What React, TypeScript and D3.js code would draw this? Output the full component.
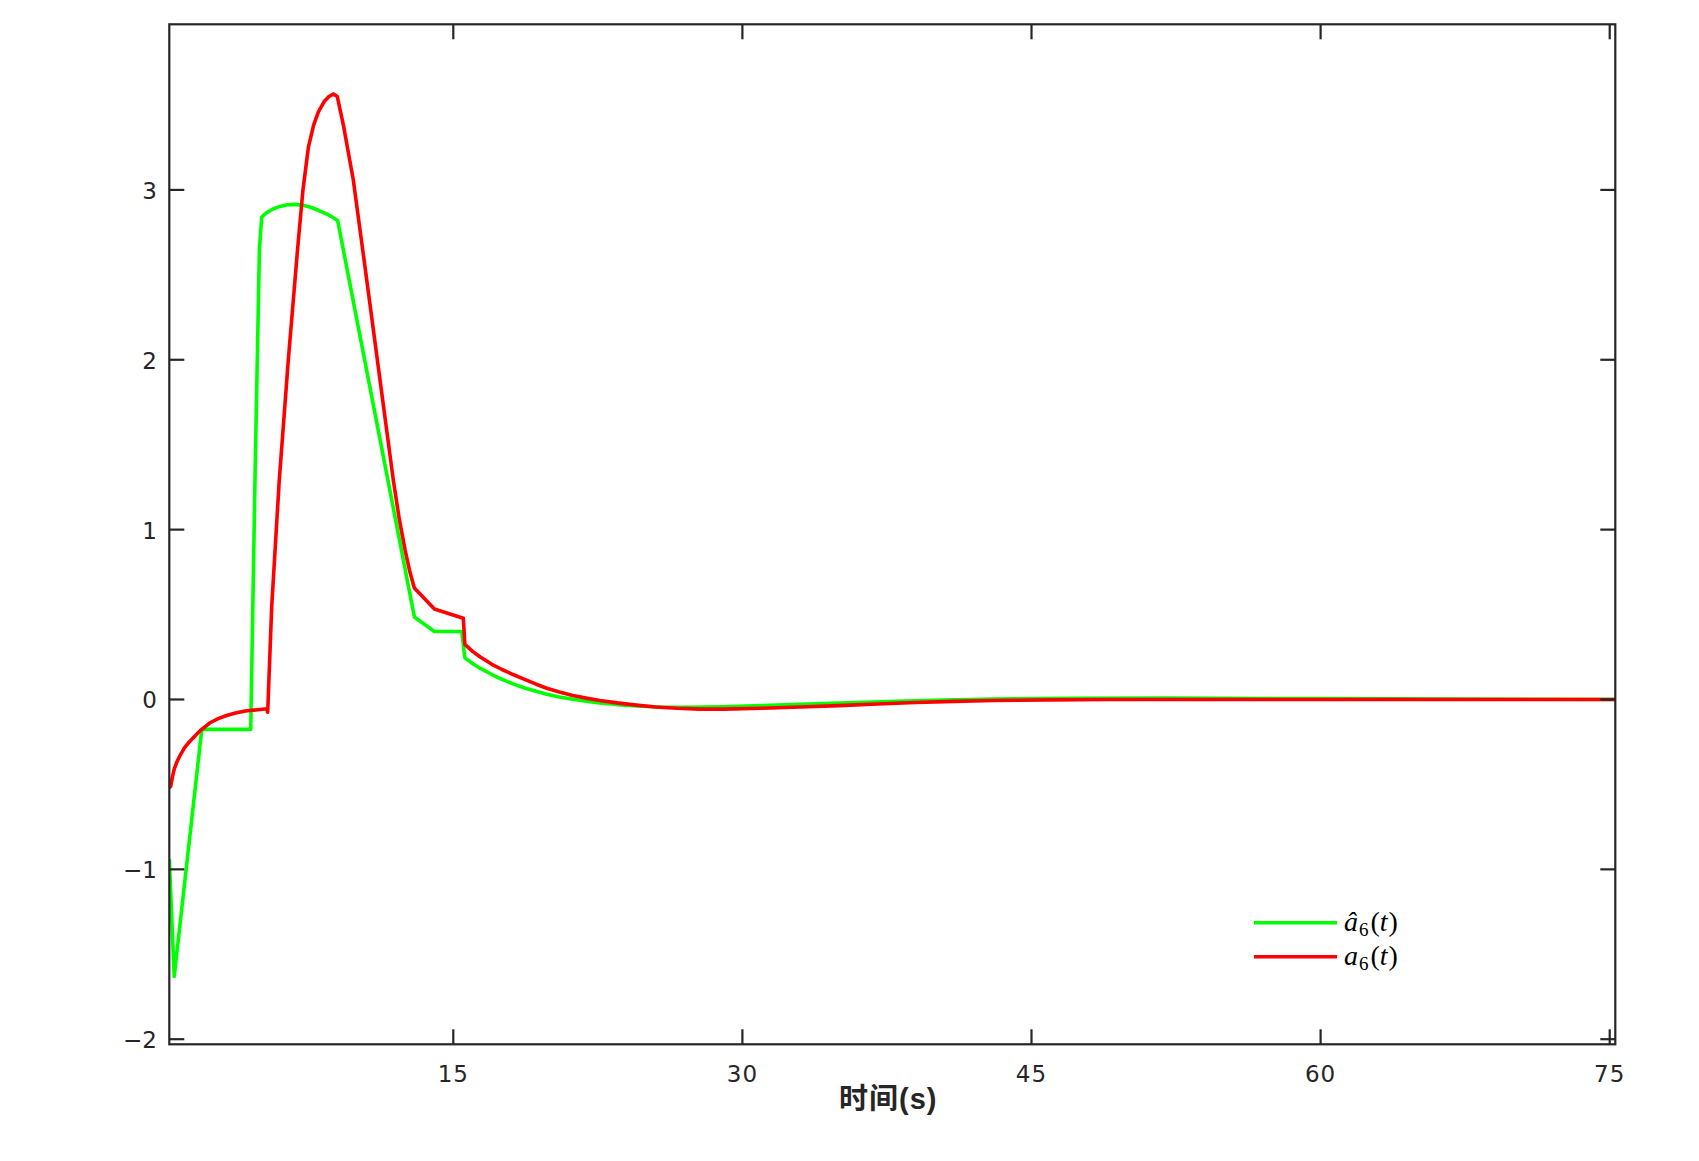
import React from "react";
import * as d3 from "d3";

// â6(t) estimate (green)
const estT = [0.265, 0.52, 1.95, 4.49, 4.71, 4.94, 5.06, 5.3, 5.6, 6.0, 6.4, 6.8, 7.2, 7.6, 8.0, 8.5, 9.0, 12.98, 14.02, 15.44, 15.6, 16.0, 16.4, 17.0, 17.5, 18.1, 18.7, 19.3, 19.85, 20.5, 21.2, 21.9, 22.6, 23.5, 24.5, 25.7, 27, 29, 31, 33, 35.5, 38, 40.5, 43, 47, 52, 60, 75.29];
const estV = [-0.94, -1.63, -0.176, -0.176, 1.29, 2.65, 2.84, 2.865, 2.885, 2.903, 2.913, 2.915, 2.91, 2.898, 2.88, 2.855, 2.82, 0.486, 0.4, 0.4, 0.245, 0.212, 0.183, 0.147, 0.12, 0.092, 0.068, 0.048, 0.031, 0.015, 0.001, -0.01, -0.02, -0.03, -0.038, -0.044, -0.046, -0.043, -0.036, -0.028, -0.019, -0.01, -0.003, 0.003, 0.007, 0.008, 0.005, 0.0];

// a6(t) actual (red)
const actT = [0.265, 0.34, 0.42, 0.52, 0.65, 0.82, 1.05, 1.3, 1.51, 1.9, 2.38, 2.8, 3.24, 3.7, 4.2, 4.97, 5.32, 5.37, 5.58, 5.97, 6.44, 6.92, 7.2, 7.48, 7.75, 8.0, 8.3, 8.55, 8.78, 8.98, 9.3, 9.81, 10.51, 11.2, 11.89, 12.2, 12.5, 12.75, 12.98, 14.02, 15.52, 15.6, 16.0, 16.4, 17.0, 17.5, 18.1, 18.7, 19.3, 19.85, 20.5, 21.2, 21.9, 22.6, 23.5, 24.5, 25.5, 26.6, 27.8, 29, 31, 33, 35, 37, 39, 41, 43, 46, 49, 60, 75.29];
const actV = [-0.52, -0.51, -0.46, -0.41, -0.37, -0.33, -0.285, -0.25, -0.225, -0.18, -0.137, -0.113, -0.094, -0.08, -0.068, -0.059, -0.055, -0.075, 0.55, 1.29, 2.0, 2.65, 3.0, 3.25, 3.38, 3.46, 3.52, 3.55, 3.565, 3.55, 3.38, 3.06, 2.47, 1.88, 1.29, 1.06, 0.88, 0.75, 0.657, 0.533, 0.478, 0.324, 0.283, 0.25, 0.207, 0.178, 0.147, 0.118, 0.09, 0.066, 0.044, 0.024, 0.008, -0.006, -0.02, -0.033, -0.044, -0.052, -0.057, -0.057, -0.052, -0.044, -0.036, -0.027, -0.018, -0.011, -0.006, -0.002, 0.0, 0.0, 0.0];

const xTicks = [15, 30, 45, 60, 75];
const yTicks = [-2, -1, 0, 1, 2, 3];
const xDomain = [0.265, 75.29];
const yDomain = [-2.03, 3.975];

const seriesNames = ["est", "act"];

export default function App() {
  const left = 169.3, right = 1615.3, top = 24.3, bottom = 1044.3;
  const x = d3.scaleLinear().domain(xDomain).range([left, right]);
  const y = d3.scaleLinear().domain(yDomain).range([bottom, top]);
  const line = d3
    .line<[number, number]>()
    .x((d) => x(d[0]))
    .y((d) => y(d[1]))
    .curve(d3.curveLinear);
  const est: [number, number][] = estT.map((t, i) => [t, estV[i]]);
  const act: [number, number][] = actT.map((t, i) => [t, actV[i]]);
  const axisColor = "#262626";
  const tickLen = 15;
  const tickFont = "'DejaVu Sans', sans-serif";

  return (
    <svg
      width={1699}
      height={1161}
      style={{ position: "absolute", left: 0, top: 0, background: "#fff" }}
    >
      <rect x={0} y={0} width={1699} height={1161} fill="#fff" />
      <defs>
        <clipPath id="plotclip">
          <rect x={left} y={top} width={right - left} height={bottom - top} />
        </clipPath>
      </defs>
      <g clipPath="url(#plotclip)">
        <path d={line(est) || ""} fill="none" stroke="#00ff00" strokeWidth={3.6} strokeLinejoin="round" />
        <path d={line(act) || ""} fill="none" stroke="#ff0000" strokeWidth={3.6} strokeLinejoin="round" />
      </g>
      {/* box */}
      <rect x={left} y={top} width={right - left} height={bottom - top} fill="none" stroke={axisColor} strokeWidth={2.2} />
      {/* x ticks */}
      {xTicks.map((t) => (
        <g key={"xt" + t}>
          <line x1={x(t)} x2={x(t)} y1={bottom} y2={bottom - tickLen} stroke={axisColor} strokeWidth={2.2} />
          <line x1={x(t)} x2={x(t)} y1={top} y2={top + tickLen} stroke={axisColor} strokeWidth={2.2} />
          <text x={x(t)} y={1082} textAnchor="middle" fontFamily={tickFont} fontSize={23} letterSpacing={1} fill={axisColor}>
            {t}
          </text>
        </g>
      ))}
      {yTicks.map((v) => (
        <g key={"yt" + v}>
          <line x1={left} x2={left + tickLen} y1={y(v)} y2={y(v)} stroke={axisColor} strokeWidth={2.2} />
          <line x1={right} x2={right - tickLen} y1={y(v)} y2={y(v)} stroke={axisColor} strokeWidth={2.2} />
          <text x={157} y={y(v) + 9} textAnchor="end" fontFamily={tickFont} fontSize={23} fill={axisColor}>
            {v < 0 ? "\u2212" + Math.abs(v) : v}
          </text>
        </g>
      ))}
      <text
        x={(left + right) / 2 - 4}
        y={1109}
        textAnchor="middle"
        fontFamily="'Liberation Sans', 'Noto Sans CJK SC', sans-serif"
        fontWeight="bold"
        fontSize={29}
        letterSpacing={1}
        fill={axisColor}
      >
        时间(s)
      </text>
      {/* legend */}
      {seriesNames.map((n, i) => {
        const ly = 922.7 + i * 34;
        const color = i === 0 ? "#00ff00" : "#ff0000";
        return (
          <g key={n}>
            <line x1={1254} x2={1337} y1={ly} y2={ly} stroke={color} strokeWidth={3.6} />
            <text x={1344} y={ly + 8} fontFamily="'Liberation Serif', 'DejaVu Serif', serif" fontSize={28} fill="#000">
              <tspan fontStyle="italic">{i === 0 ? "\u00e2" : "a"}</tspan>
              <tspan fontSize={19} dy={5} dx={1}>6</tspan>
              <tspan dy={-5} dx={2}>(</tspan>
              <tspan fontStyle="italic">t</tspan>
              <tspan dx={1}>)</tspan>
            </text>
          </g>
        );
      })}
    </svg>
  );
}
